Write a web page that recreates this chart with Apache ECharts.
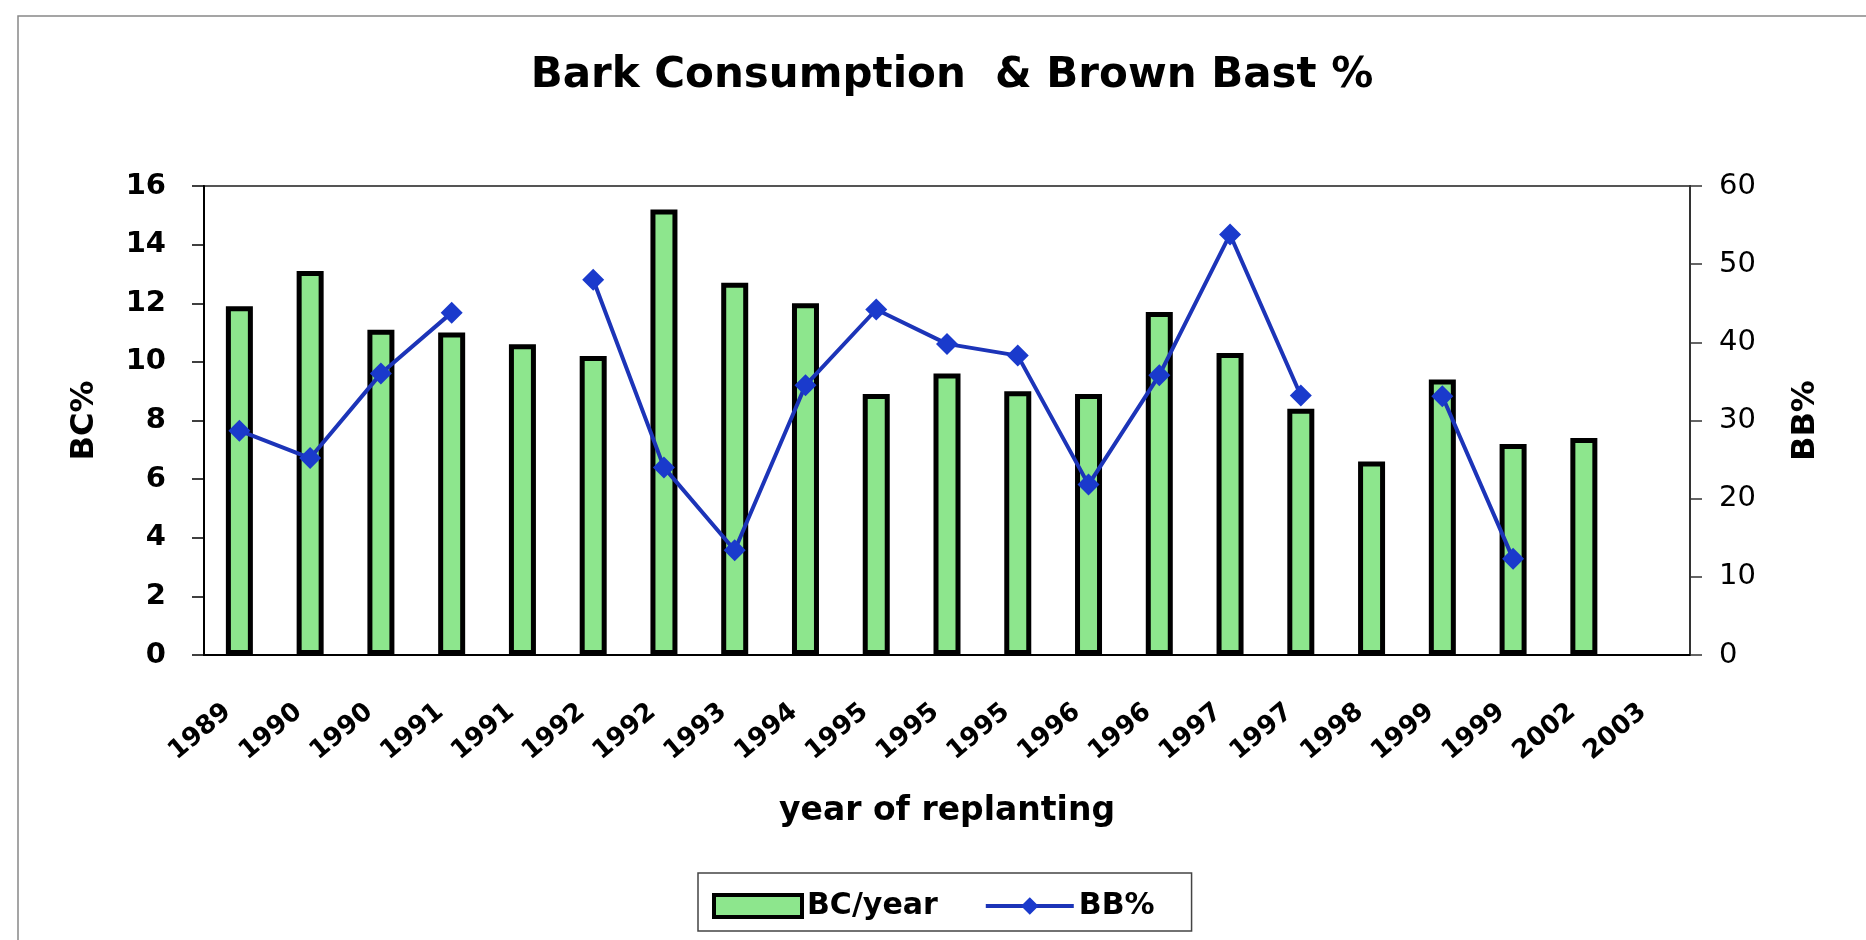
<!DOCTYPE html>
<html>
<head>
<meta charset="utf-8">
<title>Bark Consumption & Brown Bast %</title>
<script src="https://cdn.jsdelivr.net/npm/echarts@6/dist/echarts.min.js"></script>
<style>
  html, body { margin: 0; padding: 0; background: #fff; }
  #chart { width: 1866px; height: 940px; }
</style>
</head>
<body>
<div id="chart"></div>
<script>
const years = ['1989', '1990', '1990', '1991', '1991', '1992', '1992', '1993', '1994', '1995', '1995',
  '1995', '1996', '1996', '1997', '1997', '1998', '1999', '1999', '2002', '2003']
const bcPerYear = [11.9, 13.1, 11.1, 11.0, 10.6, 10.2, 15.2, 12.7, 12.0, 8.9, 9.6,
  9.0, 8.9, 11.7, 10.3, 8.4, 6.6, 9.4, 7.2, 7.4, null]
const bbPercent = [28.7, 25.2, 36.0, 43.8, null, 48.0, 24.0, 13.4, 34.5, 44.2, 39.8,
  38.3, 21.8, 35.8, 53.8, 33.2, null, 33.1, 12.3, null, null]

const font = "'DejaVu Sans', 'Liberation Sans', Arial, sans-serif"
const chart = echarts.init(document.getElementById('chart'))

chart.setOption({
  animation: false,
  textStyle: { fontFamily: font, color: '#000' },
  graphic: [{
    type: 'rect',
    shape: { x: 18, y: 16, width: 2000, height: 2000 },
    style: { fill: 'none', stroke: '#888', lineWidth: 1.5 },
    silent: true
  }],
  title: {
    text: 'Bark Consumption  & Brown Bast %',
    left: 947,
    textAlign: 'center',
    top: 50,
    textStyle: { fontFamily: font, fontSize: 42, fontWeight: 'bold', color: '#000' }
  },
  legend: {
    left: 698,
    top: 873,
    padding: [18, 37, 10, 14],
    itemGap: 46,
    itemWidth: 88,
    itemHeight: 22,
    borderColor: '#444',
    borderWidth: 1.5,
    textStyle: { fontFamily: font, fontSize: 30, fontWeight: 'bold', color: '#000' },
    data: [
      { name: 'BC/year', icon: 'rect', itemStyle: { borderColor: '#000', borderWidth: 4 } },
      { name: 'BB%', lineStyle: { color: '#1c34b8', width: 4 } }
    ]
  },
  grid: {
    left: 204,
    right: 176,
    top: 186,
    bottom: 285,
    show: true,
    borderColor: '#555',
    borderWidth: 2
  },
  xAxis: {
    type: 'category',
    data: years,
    name: 'year of replanting',
    nameLocation: 'middle',
    nameGap: 140,
    nameTextStyle: { fontFamily: font, fontSize: 33, fontWeight: 'bold', color: '#000' },
    axisLine: { lineStyle: { color: '#000', width: 2 } },
    axisTick: { interval: 0, length: 11, lineStyle: { color: '#000', width: 1.5 } },
    axisLabel: {
      interval: 0,
      rotate: 40,
      margin: 44,
      padding: [0, 15, 0, 0],
      fontFamily: font,
      fontSize: 26,
      fontWeight: 'bold',
      color: '#000'
    }
  },
  yAxis: [{
    type: 'value',
    min: 0,
    max: 16,
    interval: 2,
    name: 'BC%',
    nameLocation: 'middle',
    nameRotate: 90,
    nameGap: 103,
    nameTextStyle: { fontFamily: font, fontSize: 32, fontWeight: 'bold', color: '#000' },
    axisLine: { show: true, lineStyle: { color: '#000', width: 2 } },
    axisTick: { show: true, length: 12, lineStyle: { color: '#000', width: 1.5 } },
    axisLabel: { margin: 38, fontFamily: font, fontSize: 29, fontWeight: 'bold', color: '#000' },
    splitLine: { show: false }
  }, {
    type: 'value',
    min: 0,
    max: 60,
    interval: 10,
    name: 'BB%',
    nameLocation: 'middle',
    nameRotate: 90,
    nameGap: 100,
    nameTextStyle: { fontFamily: font, fontSize: 32, fontWeight: 'bold', color: '#000' },
    axisLine: { show: true, lineStyle: { color: '#333', width: 2 } },
    axisTick: { show: true, length: 12, lineStyle: { color: '#333', width: 1.5 } },
    axisLabel: { margin: 29, fontFamily: font, fontSize: 29, color: '#000' },
    splitLine: { show: false }
  }],
  series: [{
    name: 'BC/year',
    type: 'bar',
    data: bcPerYear,
    barWidth: 27,
    itemStyle: { color: '#8de68d', borderColor: '#000', borderWidth: 5 }
  }, {
    name: 'BB%',
    type: 'line',
    yAxisIndex: 1,
    data: bbPercent,
    connectNulls: false,
    symbol: 'diamond',
    symbolSize: 22,
    lineStyle: { color: '#1c34b8', width: 4 },
    itemStyle: { color: '#1a3acc' }
  }]
})
</script>
</body>
</html>
